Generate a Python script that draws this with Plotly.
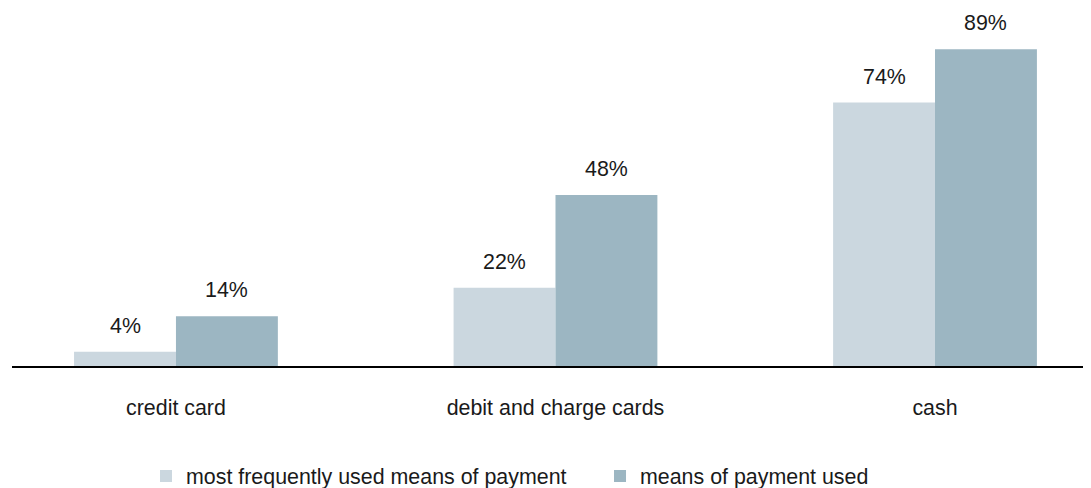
import plotly.graph_objects as go

categories = ["credit card", "debit and charge cards", "cash"]
most_frequent = [4, 22, 74]
used = [14, 48, 89]
series_names = ["most frequently used means of payment", "means of payment used"]
colors = ["#cbd7df", "#9cb6c2"]

FONT = "Liberation Sans, Arial, sans-serif"
FS = 21.4

fig = go.Figure()
fig.add_trace(go.Bar(x=categories, y=most_frequent, name=series_names[0],
                     marker=dict(color=colors[0], line=dict(width=0))))
fig.add_trace(go.Bar(x=categories, y=used, name=series_names[1],
                     marker=dict(color=colors[1], line=dict(width=0))))

half = 0.268 / 2
for i, cat in enumerate(categories):
    for vals, off in ((most_frequent, -half), (used, half)):
        fig.add_annotation(x=i + off, y=vals[i], text=f"{vals[i]}%", showarrow=False,
                           yshift=26, xref="x", yref="y",
                           font=dict(family=FONT, size=FS, color="#1a1a1a"))

fig.update_layout(
    width=1083, height=480,
    margin=dict(l=4, r=0, t=2, b=122, autoexpand=False),
    paper_bgcolor="white", plot_bgcolor="white",
    barmode="group", bargap=0.463, bargroupgap=0,
    font=dict(family=FONT, size=FS, color="#1a1a1a"),
    showlegend=True,
    legend=dict(orientation="h", x=0.1242, xanchor="left", y=-0.309, yanchor="middle",
                font=dict(family=FONT, size=FS, color="#1a1a1a"),
                itemwidth=30, traceorder="normal", entrywidth=409, entrywidthmode="pixels"),
    xaxis=dict(type="category", range=[-0.432, 2.411], showgrid=False, automargin=False,
               showline=True, linecolor="black", linewidth=1.5,
               ticks="outside", ticklen=22, tickcolor="rgba(0,0,0,0)",
               tickfont=dict(family=FONT, size=FS, color="#1a1a1a")),
    yaxis=dict(range=[0, 100], visible=False, showgrid=False, zeroline=False, automargin=False),
)

fig.write_html("out.html")
